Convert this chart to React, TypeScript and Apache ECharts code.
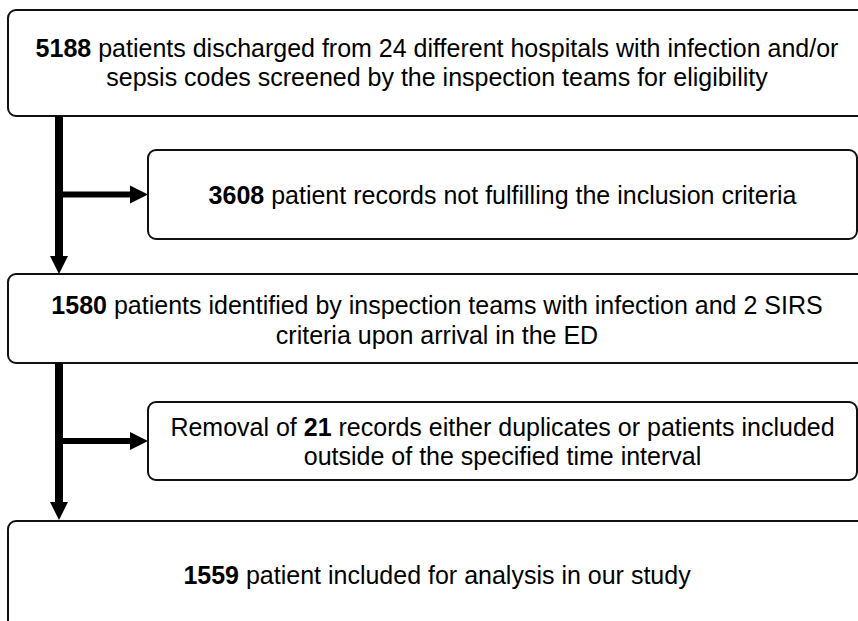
import React, { useEffect, useRef } from "react";
import * as echarts from "echarts";

// Counts shown in bold in each box
const counts: string[] = ["5188", "3608", "1580", "21", "1559"];

// Text of each box ({n} marks where the bold count goes)
const boxTexts: string[][] = [
  ["{n} patients discharged from 24 different hospitals with infection and/or", "sepsis codes screened by the inspection teams for eligibility"],
  ["{n} patient records not fulfilling the inclusion criteria"],
  ["{n} patients identified by inspection teams with infection and 2 SIRS", "criteria upon arrival in the ED"],
  ["Removal of {n} records either duplicates or patients included", "outside of the specified time interval"],
  ["{n} patient included for analysis in our study"],
];

// Layout (x, y, w, h, text centre y) of each box
const boxLayout = [
  { x: 8, y: 10, w: 858, h: 106, ty: 62.5 },
  { x: 148, y: 150, w: 709, h: 89, ty: 195 },
  { x: 8, y: 274, w: 858, h: 89, ty: 320 },
  { x: 148, y: 402, w: 709, h: 78, ty: 441.5 },
  { x: 8, y: 521, w: 858, h: 110, ty: 575 },
];

const FONT = "'Liberation Sans', Arial, Helvetica, sans-serif";

export default function App() {
  const ref = useRef<HTMLDivElement>(null);
  useEffect(() => {
    if (!ref.current) return;
    const chart = echarts.init(ref.current, undefined, { renderer: "svg" });
    const elements: any[] = [];
    const shaftX = 59;
    const vw = 8; // vertical shaft width
    const hw = 6; // horizontal shaft height
    const ah = 18; // arrowhead length
    const aw = 9; // arrowhead half width

    // vertical shafts + arrowheads
    const vArrows = [
      { from: boxLayout[0].y + boxLayout[0].h, to: boxLayout[2].y },
      { from: boxLayout[2].y + boxLayout[2].h, to: boxLayout[4].y - 1 },
    ];
    vArrows.forEach((a) => {
      elements.push({
        type: "rect",
        shape: { x: shaftX - vw / 2, y: a.from, width: vw, height: a.to - ah - a.from + 1 },
        style: { fill: "#000" },
        z: 5,
      });
      elements.push({
        type: "polygon",
        shape: { points: [[shaftX - aw, a.to - ah], [shaftX + aw, a.to - ah], [shaftX, a.to]] },
        style: { fill: "#000" },
        z: 5,
      });
    });
    // horizontal shafts + arrowheads
    [1, 3].forEach((i) => {
      const b = boxLayout[i];
      const cy = b.y + b.h / 2;
      const tip = b.x;
      elements.push({
        type: "rect",
        shape: { x: shaftX, y: cy - hw / 2, width: tip - ah - shaftX + 1, height: hw },
        style: { fill: "#000" },
        z: 5,
      });
      elements.push({
        type: "polygon",
        shape: { points: [[tip - ah, cy - aw], [tip - ah, cy + aw], [tip, cy]] },
        style: { fill: "#000" },
        z: 5,
      });
    });

    boxLayout.forEach((b, i) => {
      elements.push({
        type: "rect",
        shape: { x: b.x, y: b.y, width: b.w, height: b.h, r: 8 },
        style: { fill: "#fff", stroke: "#111", lineWidth: 2 },
        z: 2,
      });
      const txt = boxTexts[i]
        .map((line) =>
          line
            .split("{n}")
            .map((seg, k, arr) => (seg ? `{t|${seg}}` : "") + (k < arr.length - 1 ? `{b|${counts[i]}}` : ""))
            .join("")
        )
        .join("\n");
      elements.push({
        type: "text",
        x: b.x + b.w / 2,
        y: b.ty,
        z: 10,
        style: {
          text: txt,
          align: "center",
          verticalAlign: "middle",
          fontFamily: FONT,
          fontSize: 25,
          lineHeight: 29.5,
          fill: "#000",
          rich: {
            t: { fontFamily: FONT, fontSize: 25, lineHeight: 29.5, fill: "#000" },
            b: { fontFamily: FONT, fontSize: 25, lineHeight: 29.5, fontWeight: "bold", fill: "#000" },
          },
        },
      });
    });

    chart.setOption({
      animation: false,
      backgroundColor: "#fff",
      graphic: { elements },
    });
    return () => chart.dispose();
  }, []);
  return (
    <div
      ref={ref}
      style={{ position: "fixed", left: 0, top: 0, width: 858, height: 621, background: "#fff" }}
    />
  );
}
